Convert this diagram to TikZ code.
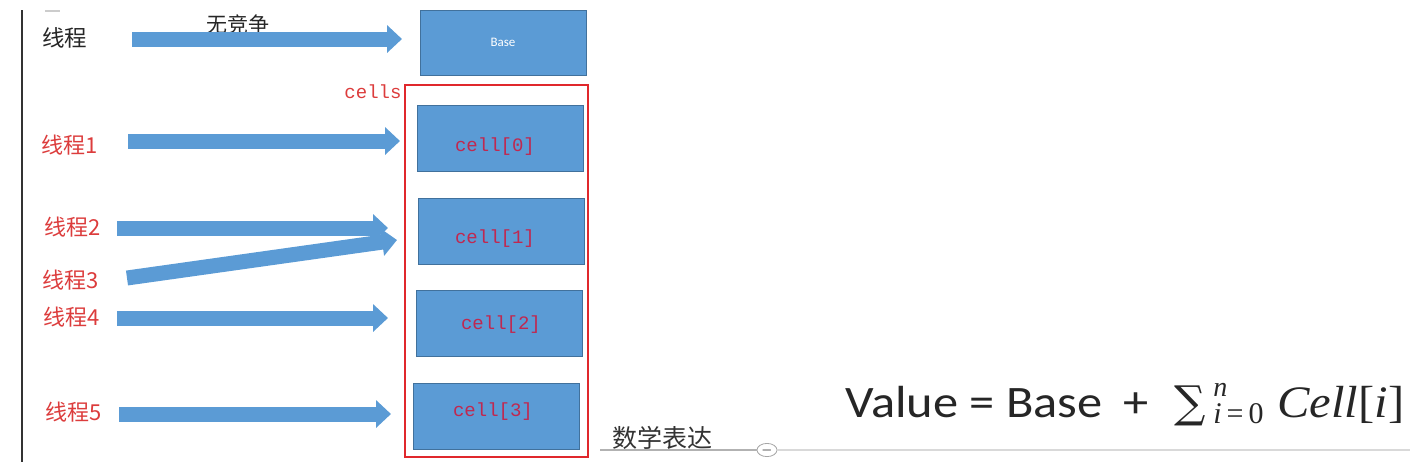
\documentclass[tikz,border=0pt]{standalone}
\usepackage{fontspec}
\usetikzlibrary{arrows.meta,shapes.geometric}
\newfontfamily\cjk{Noto Sans CJK SC}
\newfontfamily\monofont{Liberation Mono}
\newfontfamily\calfont{Carlito}
\newfontfamily\sumfont{DejaVu Serif}
\newfontfamily\serifit{Liberation Serif}
\definecolor{cellblue}{HTML}{5B9BD5}
\definecolor{celledge}{HTML}{41719C}
\definecolor{framered}{HTML}{E0282C}
\definecolor{threadred}{HTML}{DC3C3C}
\definecolor{celltext}{HTML}{C02850}
\begin{document}
\begin{tikzpicture}[x=0.5pt, y=-0.5pt,
  cellbox/.style={draw=celledge, fill=cellblue, line width=0.5pt, minimum width=83pt, minimum height=33pt, inner sep=0pt},
  celllabel/.style={text=celltext, font=\monofont\fontsize{9.5}{11}\selectfont},
  thread/.style={text=threadred, font=\cjk\fontsize{11}{13}\selectfont},
  flow/.style={cellblue, line width=7.5pt, -{Triangle[width=13.5pt,length=7.5pt]}},
  mathpart/.style={anchor=base west, inner sep=0pt, text=black!85}]
\useasboundingbox (0,0) rectangle (1410,468);

% page edge and margin mark
\draw[black!80, line width=0.8pt] (22,10) -- (22,462);
\draw[black!20, line width=0.8pt] (45,11) -- (60,11);

% base and cells
\node[cellbox, minimum height=32.5pt, text=white, font=\calfont\fontsize{6.5}{8}\selectfont] (base) at (503,42.5) {Base};
\node[draw=framered, line width=1.2pt, minimum width=91.5pt, minimum height=186pt, inner sep=0pt] (cells) at (496.5,271) {};
\node[text=threadred, font=\monofont\fontsize{9.5}{11}\selectfont] (cellslbl) at (373,92) {cells};

\node[cellbox] (cell0) at (500,138.5) {};
\node[cellbox] (cell1) at (501,231) {};
\node[cellbox] (cell2) at (499.5,323.5) {};
\node[cellbox] (cell3) at (496.5,416) {};

\node[celllabel] (cell0txt) at (495,147) {cell[0]};
\node[celllabel] (cell1txt) at (495,239) {cell[1]};
\node[celllabel] (cell2txt) at (501,325) {cell[2]};
\node[celllabel] (cell3txt) at (493,412) {cell[3]};

% threads
\node[font=\cjk\fontsize{11.25}{13}\selectfont, text=black!85] (thread) at (64.5,38) {线程};
\node[font=\cjk\fontsize{10.5}{12}\selectfont, text=black!85] (nocontend) at (238,24) {无竞争};
\node[thread] (thread1) at (69.5,145) {线程1};
\node[thread] (thread2) at (72.5,227) {线程2};
\node[thread] (thread3) at (70.5,280) {线程3};
\node[thread] (thread4) at (71.5,317) {线程4};
\node[thread] (thread5) at (73.5,412) {线程5};

% arrows
\coordinate (s0) at (132,39);  \coordinate (e0) at (402,39);
\coordinate (s1) at (128,141); \coordinate (e1) at (400,141);
\coordinate (s2) at (117,228); \coordinate (e2) at (388,228);
\coordinate (s3) at (127,278); \coordinate (e3) at (397,240);
\coordinate (s4) at (117,318); \coordinate (e4) at (388,318);
\coordinate (s5) at (119,414); \coordinate (e5) at (391,414);
\draw[flow] (s0) -- (e0);
\draw[flow] (s1) -- (e1);
\draw[flow] (s2) -- (e2);
\draw[flow] (s3) -- (e3);
\draw[flow] (s4) -- (e4);
\draw[flow] (s5) -- (e5);

% formula
\node[font=\cjk\fontsize{12.5}{14}\selectfont, text=black!80] (mathlbl) at (662,438) {数学表达};
\node[mathpart, font=\calfont\fontsize{22.5}{26}\selectfont] (formula) at (845,417)
  {\scalebox{1.12}[1]{Value = Base\hspace{4pt} +}};
\node[mathpart, font=\sumfont\fontsize{22}{26}\selectfont] (sumsign) at (1174,417) {∑};
\node[mathpart, font=\serifit\itshape\fontsize{14}{15}\selectfont] (sumup) at (1213,396) {n};
\node[mathpart, font=\serifit\fontsize{15}{16}\selectfont] (sumlow) at (1213,423) {\textit{i}\,=\,0};
\node[mathpart, font=\serifit\fontsize{22.5}{26}\selectfont] (cellsum) at (1277,417) {\scalebox{1.08}[1]{\textit{Cell}[\textit{i}]}};
\node[draw=black!35, fill=white, ellipse, minimum width=10pt, minimum height=6.5pt, inner sep=0pt, font=\fontsize{6}{6}\selectfont] (fold) at (767,450) {$-$};
\coordinate (rulel) at (600,450);
\coordinate (ruler) at (1410,450);
\draw[black!30, line width=0.6pt] (rulel) -- (fold);
\draw[black!15, line width=0.6pt] (fold) -- (ruler);
\end{tikzpicture}
\end{document}
